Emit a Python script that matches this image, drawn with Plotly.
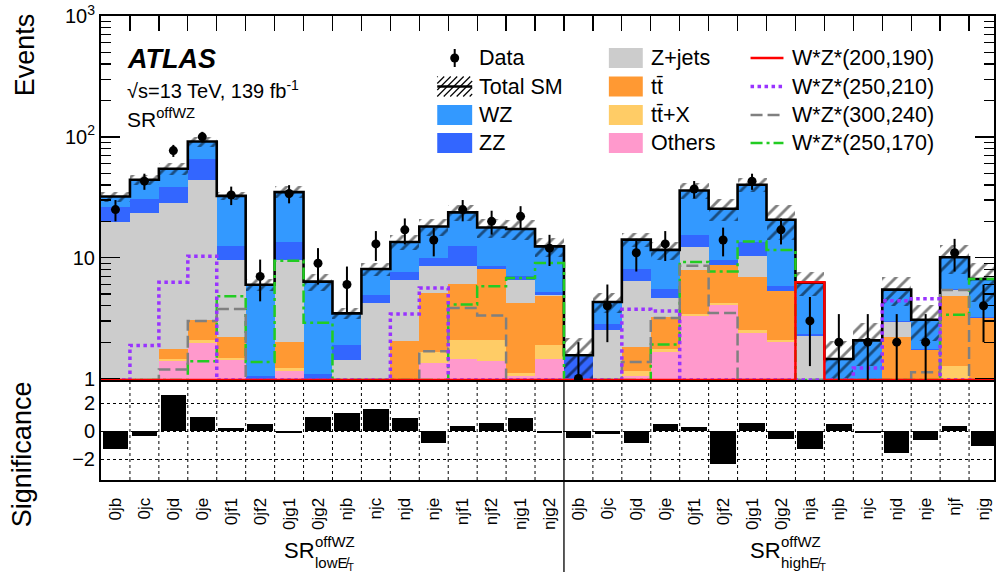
import numpy as np
import plotly.graph_objects as go

# ---------------- data ----------------
low_bins = ["0jb", "0jc", "0jd", "0je", "0jf1", "0jf2", "0jg1", "0jg2",
            "njb", "njc", "njd", "nje", "njf1", "njf2", "njg1", "njg2"]
high_bins = ["0jb", "0jc", "0jd", "0je", "0jf1", "0jf2", "0jg1", "0jg2",
             "nja", "njb", "njc", "njd", "nje", "njf", "njg"]
labels = low_bins + high_bins

others = [0.2, 0.3, 1.39, 1.97, 1.42, 0.3, 1.15, 0.2, 0.15, 0.2, 0.4, 1.35, 1.46, 1.39, 1.05, 1.46,
          0.1, 0.1, 1.05, 1.65, 3.32, 4.04, 2.39, 2.0, 0.1, 0.1, 0.1, 0.3, 0.2, 0.5, 0.3]
ttx = [0.1, 0.1, 0.06, 0.1, 0.05, 0.05, 0.07, 0.05, 0.05, 0.1, 0.2, 0.31, 0.64, 0.71, 0.06, 0.45,
       0.05, 0.05, 0.11, 0.09, 0.12, 0.18, 0.15, 0.1, 0.1, 0.05, 0.1, 0.2, 0.2, 0.78, 0.3]
ttbar = [0.4, 0.5, 0.32, 1.0, 0.72, 0.3, 0.79, 0.35, 0.3, 0.5, 1.43, 3.44, 4.0, 5.96, 3.11, 2.94,
         0.15, 0.25, 0.65, 1.5, 4.52, 4.53, 4.33, 3.17, 0.3, 0.2, 0.3, 1.69, 1.31, 3.57, 2.57]
zjets = [18.9, 22.5, 26.83, 40.83, 7.41, 0.3, 7.59, 0.3, 0.92, 3.42, 4.55, 3.37, 2.37, 0.05, 2.38, 0.05,
         0.2, 2.14, 4.56, 1.4, 4.34, 0.02, 3.43, 0.02, 1.77, 0.2, 0.3, 0.73, 0.02, 0.59, 0.02]
zz = [6.9, 7.1, 9.8, 21.5, 2.8, 0.1, 4.0, 0.2, 0.46, 0.72, 0.98, 1.4, 4.13, 0.48, 0.41, 0.27,
      1.0, 0.31, 1.74, 0.9, 3.2, 0.85, 3.1, 0.58, 0.05, 0.25, 0.1, 0.05, 0.02, 0.02, 0.02]
wz = [5.6, 13.6, 16.0, 26.1, 20.1, 4.93, 21.3, 5.24, 1.58, 3.12, 5.94, 8.23, 11.1, 9.21, 10.29, 7.23,
      0.06, 1.45, 5.99, 6.06, 20.5, 15.78, 26.7, 14.73, 3.88, 0.65, 1.17, 2.47, 1.32, 4.64, 3.45]
sm_unc = [3.0, 4.5, 6.5, 9.0, 2.7, 0.7, 4.0, 1.0, 0.35, 1.0, 1.9, 3.0, 3.7, 3.3, 3.3, 2.2,
          0.6, 0.8, 1.9, 2.0, 5.5, 5.1, 5.4, 6.7, 1.4, 0.58, 0.8, 1.43, 1.02, 2.7, 2.4]
data = [25, 43, 77, 100, 33, 7, 34, 9, 6, 13, 17, 14, 25, 20, 22, 12,
        1, 4, 11, 13, 37, 14, 43, 17, 3, 2, 2, 2, 2, 11, 4]

sig_200_190 = [0] * 24 + [6.25] + [0] * 6
sig_250_210 = [0, 1.88, 6.25, 10.3, 0, 0, 0, 0, 0, 0, 3.42, 5.62, 0, 0, 0, 0,
               0, 0, 3.75, 3.63, 0, 0, 0, 0, 0, 0, 1.22, 4.41, 4.58, 0, 0]
sig_300_240 = [0, 0, 1.19, 3.0, 3.77, 0, 0, 0, 0, 0, 0, 1.68, 3.84, 3.33, 0, 0,
               0, 0, 1.37, 3.17, 8.59, 3.49, 0, 0, 0, 0, 0, 0, 1.13, 5.4, 0]
sig_250_170 = [0, 0, 0, 1.39, 4.79, 1.37, 9.44, 2.89, 0, 0, 0, 0, 4.09, 5.8, 6.79, 9.04,
               0, 0, 0, 1.91, 9.21, 7.7, 13.6, 11.6, 0, 0, 0, 0, 0, 3.38, 6.66]

significance = [-1.25, -0.38, 2.6, 0.98, 0.2, 0.48, -0.15, 1.02, 1.26, 1.57, 0.93, -0.86, 0.38, 0.55, 0.95, -0.17,
                -0.5, -0.19, -0.83, 0.48, 0.26, -2.36, 0.6, -0.55, -1.26, 0.5, -0.12, -1.57, -0.62, 0.36, -1.05]

# ---------------- geometry helpers ----------------
W, H = 996, 577
ML, MT, MB = 101, 16, 97
PW, PH = W - ML, H - MT - MB
BINPX = 29.0
n = len(labels)
xc = np.arange(n)
edges = np.arange(n + 1) - 0.5
xmax = -0.5 + PW / BINPX
FLOOR = 10 ** (-0.012)


def px(x):
    return (x - ML) / PW


def py(y):
    return (H - MB - y) / PH


main_dom = [py(380), 1.0]
low_dom = [0.0, py(382)]
FONT = "Liberation Sans, Arial, Helvetica, sans-serif"

fig = go.Figure()

comps = [("Others", others, "#FF99CC"), ("ttX", ttx, "#FFCC66"), ("tt", ttbar, "#FF9933"),
         ("Z+jets", zjets, "#CCCCCC"), ("ZZ", zz, "#3366FF"), ("WZ", wz, "#3399FF")]
cum = np.cumsum([np.array(c[1], dtype=float) for c in comps], axis=0)
total = cum[-1]

for i in reversed(range(len(comps))):
    fig.add_trace(go.Bar(x=xc, y=cum[i], width=1.0, opacity=1,
                         marker=dict(color=comps[i][2], line=dict(width=0)),
                         xaxis="x", yaxis="y", showlegend=False, hoverinfo="skip"))

unc = np.array(sm_unc)
fig.add_trace(go.Bar(x=xc, y=2 * unc, base=total - unc, width=1.0,
                     marker=dict(color="rgba(0,0,0,0)", line=dict(width=0),
                                 pattern=dict(shape="/", fgcolor="black", bgcolor="rgba(0,0,0,0)",
                                              size=9, solidity=0.32)),
                     xaxis="x", yaxis="y", showlegend=False, hoverinfo="skip"))

fig.add_trace(go.Scatter(x=edges, y=np.append(total, total[-1]), mode="lines",
                         line=dict(shape="hv", color="black", width=2.6),
                         xaxis="x", yaxis="y", showlegend=False))

signals = [(sig_250_170, "#22CC22", "12px,4px,3px,4px", 2.5),
           (sig_300_240, "#808080", "12px,5px", 2.5),
           (sig_250_210, "#9933FF", "dot", 3.5),
           (sig_200_190, "#FF0000", "solid", 2.5)]
for vals, col, dash, lw in signals:
    v = np.maximum(np.array(vals, dtype=float), FLOOR)
    fig.add_trace(go.Scatter(x=edges, y=np.append(v, v[-1]), mode="lines",
                             line=dict(shape="hv", color=col, width=lw, dash=dash),
                             xaxis="x", yaxis="y", showlegend=False))

d = np.array(data, dtype=float)
err = np.sqrt(d)
lo = d - np.maximum(d - err, 0.5)
fig.add_trace(go.Scatter(x=xc, y=d, mode="markers",
                         marker=dict(color="black", size=9),
                         error_y=dict(type="data", symmetric=False, array=err, arrayminus=lo,
                                      width=0, thickness=2, color="black"),
                         xaxis="x", yaxis="y", showlegend=False))

fig.add_trace(go.Bar(x=xc, y=significance, width=0.88, marker=dict(color="black", line=dict(width=0)),
                     xaxis="x2", yaxis="y2", showlegend=False))

# ---------------- shapes ----------------
shapes = []
for e in edges[1:-1]:
    if e == 15.5:
        continue
    shapes.append(dict(type="line", xref="x2", yref="y2 domain", x0=e, x1=e, y0=0, y1=1,
                       line=dict(color="black", width=1, dash="dot"), layer="below"))
shapes.append(dict(type="line", xref="x2", yref="paper", x0=15.5, x1=15.5, y0=low_dom[1], y1=py(572),
                   line=dict(color="black", width=1.3)))

# legend
rows = [58, 86.5, 115, 143]
c1s, c1e, c1t = 438, 473, 479
c2s, c2e, c2t = 610, 644, 651
c3s, c3e, c3t = 752, 785, 793


def rect(x0, x1, y0, y1, col):
    return dict(type="rect", xref="paper", yref="paper", x0=px(x0), x1=px(x1), y0=py(y1), y1=py(y0),
                fillcolor=col, line=dict(width=0))


def seg(x0, y0, x1, y1, col, w, dash="solid"):
    return dict(type="line", xref="paper", yref="paper", x0=px(x0), y0=py(y0), x1=px(x1), y1=py(y1),
                line=dict(color=col, width=w, dash=dash))


# data symbol
shapes.append(seg((c1s + c1e) / 2, rows[0] - 9, (c1s + c1e) / 2, rows[0] + 9, "black", 2))
shapes.append(dict(type="circle", xref="paper", yref="paper",
                   x0=px((c1s + c1e) / 2 - 4.5), x1=px((c1s + c1e) / 2 + 4.5),
                   y0=py(rows[0] + 4.5), y1=py(rows[0] - 4.5), fillcolor="black", line=dict(width=0)))
# total SM hatch symbol
hy0, hy1 = rows[1] - 10, rows[1] + 10
for k in range(-3, 7):
    xs = c1s + k * 6.5
    xa, ya, xb, yb = xs, hy1, xs + 20, hy0
    if xa < c1s:
        ya = hy1 - (c1s - xa)
        xa = c1s
    if xb > c1e:
        yb = hy0 + (xb - c1e)
        xb = c1e
    if xa < xb:
        shapes.append(seg(xa, ya, xb, yb, "black", 1.2))
shapes.append(seg(c1s, rows[1], c1e, rows[1], "black", 2.6))
shapes.append(rect(c1s, c1e, rows[2] - 10, rows[2] + 10, "#3399FF"))
shapes.append(rect(c1s, c1e, rows[3] - 10, rows[3] + 10, "#3366FF"))
for r, col in zip(rows, ["#CCCCCC", "#FF9933", "#FFCC66", "#FF99CC"]):
    shapes.append(rect(c2s, c2e, r - 10, r + 10, col))
for r, (col, dash, lw) in zip(rows, [("#FF0000", "solid", 2.5), ("#9933FF", "dot", 3.5),
                                     ("#808080", "12px,5px", 2.5), ("#22CC22", "12px,4px,3px,4px", 2.5)]):
    shapes.append(seg(c3s, r, c3e, r, col, lw, dash))

# ---------------- annotations ----------------
ann = []


def text(x, y, s, size, xanchor="left", angle=0, yanchor="middle"):
    ann.append(dict(xref="paper", yref="paper", x=px(x), y=py(y), text=s, showarrow=False,
                    xanchor=xanchor, yanchor=yanchor, textangle=angle, borderpad=0,
                    font=dict(family=FONT, size=size, color="black")))


for r, s in zip(rows, ["Data", "Total SM", "WZ", "ZZ"]):
    text(c1t, r, s, 21.5)
for r, s in zip(rows, ["Z+jets", "tt\u0304", "tt\u0304+X", "Others"]):
    text(c2t, r, s, 21.5)
for r, s in zip(rows, ["W*Z*(200,190)", "W*Z*(250,210)", "W*Z*(300,240)", "W*Z*(250,170)"]):
    text(c3t, r, s, 21.5)

text(126, 59, "<b><i>ATLAS</i></b>", 27)
text(126, 89, "\u221as=13 TeV, 139 fb<sup>-1</sup>", 20)
text(126, 118, "SR<sup>offWZ</sup>", 21)

text(25, 55, "Events", 27, xanchor="center", angle=-90)
text(22, 454, "Significance", 27, xanchor="center", angle=-90)

for xs, sub in [(314, "low"), (782, "high")]:
    text(xs + 2, 550, "SR", 22, xanchor="right")
    text(xs, 541, "offWZ", 15)
    text(xs, 563, sub + "E\u0338<sub>T</sub>", 15)

# ---------------- layout ----------------
minor_vals = [m * 10 ** e for e in range(0, 3) for m in range(2, 10)]
fig.update_layout(
    width=W, height=H, margin=dict(l=ML, r=0, t=MT, b=MB, pad=0),
    paper_bgcolor="white", plot_bgcolor="white", barmode="overlay", bargap=0,
    font=dict(family=FONT, color="black"),
    shapes=shapes, annotations=ann, showlegend=False,
    xaxis=dict(domain=[0, 1], anchor="y", range=[-0.5, xmax], side="top",
               tickmode="array", tickvals=edges[1:-1], ticks="inside", ticklen=15, tickwidth=1.3,
               tickcolor="black", showticklabels=False, showline=True, linecolor="black",
               linewidth=2, mirror=True, showgrid=False, zeroline=False),
    yaxis=dict(domain=main_dom, anchor="x", type="log", range=[-0.012, 3],
               tickmode="array", tickvals=[1, 10, 100, 1000],
               ticktext=["1", "10", "10<sup>2</sup>", "10<sup>3</sup>"],
               ticks="inside", ticklen=19, tickwidth=1.3, tickcolor="black",
               minor=dict(ticks="inside", ticklen=10, tickwidth=1.3, tickcolor="black",
                          tickmode="array", tickvals=minor_vals, showgrid=False),
               showline=True, linecolor="black", linewidth=2, mirror="ticks",
               showgrid=False, zeroline=False, tickfont=dict(size=20)),
    xaxis2=dict(domain=[0, 1], anchor="y2", range=[-0.5, xmax],
                tickmode="array", tickvals=xc, ticktext=labels, tickangle=-90,
                ticks="outside", ticklen=9, tickcolor="rgba(0,0,0,0)",
                tickfont=dict(size=17), showline=True, linecolor="black", linewidth=2,
                mirror=True, showgrid=False, zeroline=False),
    yaxis2=dict(domain=low_dom, anchor="x2", range=[-3.5, 3.5],
                tickmode="array", tickvals=[-2, 0, 2], ticktext=["\u22122", "0", "2"],
                ticks="", showline=True, linecolor="black", linewidth=2, mirror=True,
                showgrid=True, gridcolor="black", griddash="dot", gridwidth=1,
                zeroline=False, tickfont=dict(size=20)),
)

fig.write_html("out.html", config={"displayModeBar": False, "staticPlot": True},
               post_script="document.body.style.margin='0px';document.body.style.overflow='hidden';")
